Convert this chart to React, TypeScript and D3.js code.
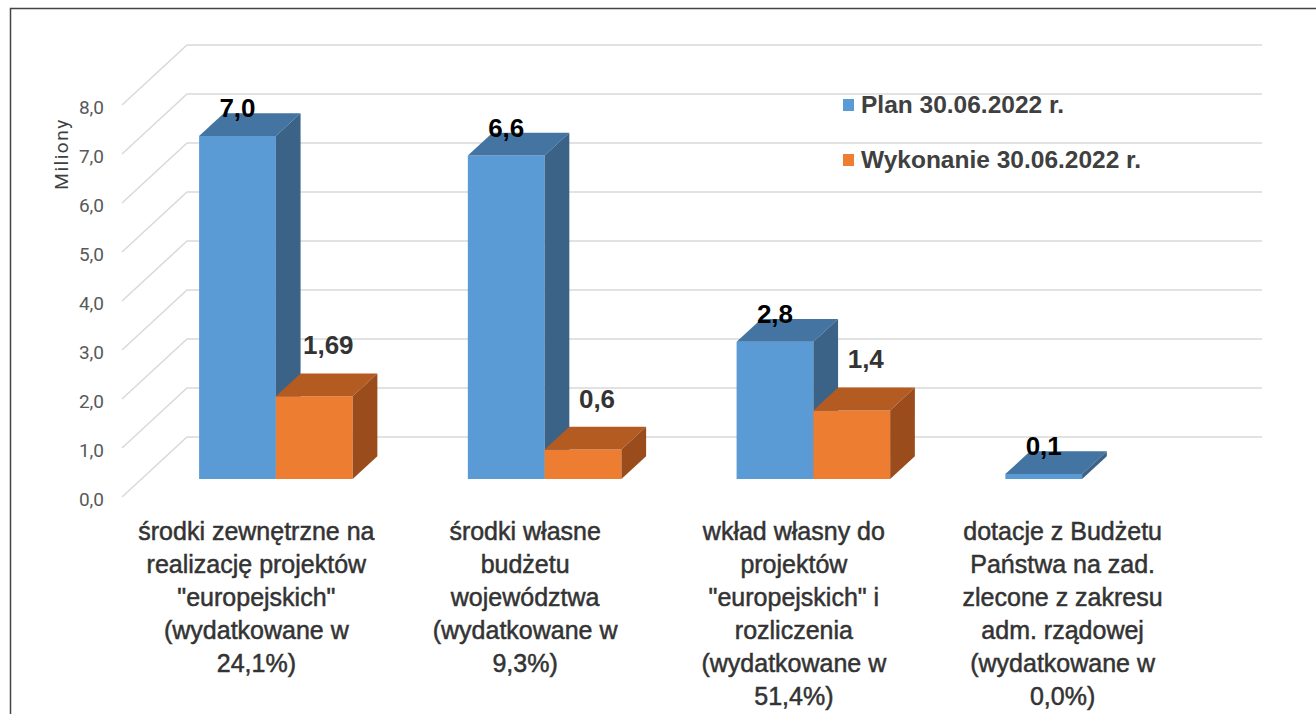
import { useEffect, useRef } from "react";
import * as d3 from "d3";

const categories = ["cat1", "cat2", "cat3", "cat4"];
const categoryLines: string[][] = [
  ["środki zewnętrzne na", "realizację projektów", "\"europejskich\"", "(wydatkowane w", "24,1%)"],
  ["środki własne", "budżetu", "województwa", "(wydatkowane w", "9,3%)"],
  ["wkład własny do", "projektów", "\"europejskich\" i", "rozliczenia", "(wydatkowane w", "51,4%)"],
  ["dotacje z Budżetu", "Państwa na zad.", "zlecone z zakresu", "adm. rządowej", "(wydatkowane w", "0,0%)"],
];
const seriesNames = ["Plan 30.06.2022 r.", "Wykonanie 30.06.2022 r."];
const planValues = [7.0, 6.6, 2.8, 0.1];
const executionValues = [1.69, 0.6, 1.4, 0];
const yTicks = [0, 1, 2, 3, 4, 5, 6, 7, 8];

const FACE = [
  { front: "#5b9bd5", top: "#4474a2", side: "#3a6387" },
  { front: "#ed7d31", top: "#b45b21", side: "#9a4c1c" },
];

const W = 1316;
const H = 714;
// oblique depth: full depth (z = 1) moves this much
const DEPTH_X = 65;
const DEPTH_Y = -60;
const BAR_Z0 = 0.3;
const BAR_Z1 = 0.68;

function fmt(v: number) {
  const digits = Math.round(v * 100) % 10 !== 0 ? 2 : 1;
  return v.toFixed(digits).replace(".", ",");
}

export default function App() {
  const svgRef = useRef<SVGSVGElement | null>(null);

  useEffect(() => {
    const svgEl = svgRef.current;
    if (!svgEl) return;
    const svg = d3.select(svgEl);
    svg.selectAll("*").remove();

    const x = d3.scaleBand().domain(categories).range([122, 1197]).padding(0);
    const xs = d3
      .scaleBand()
      .domain(seriesNames)
      .range([0, x.bandwidth()])
      .paddingInner(0)
      .paddingOuter(0.75);
    const y = d3.scaleLinear().domain([0, 8]).range([497, 105]);

    const px = (xv: number, z: number) => xv + DEPTH_X * z;
    const py = (v: number, z: number) => y(v) + DEPTH_Y * z;

    // frame
    svg
      .append("path")
      .attr("d", `M10.5,${H} L10.5,8.5 L${W + 5},8.5`)
      .attr("fill", "none")
      .attr("stroke", "#444")
      .attr("stroke-width", 1.5);

    const grid = svg.append("g").attr("stroke", "#d9d9d9").attr("stroke-width", 1.5).attr("fill", "none");
    const [x0, x1] = x.range();
    yTicks.forEach((t) => {
      grid
        .append("path")
        .attr("d", `M${px(x0, 0)},${py(t, 0)} L${px(x0, 1)},${py(t, 1)} L${px(x1, 1)},${py(t, 1)}`);
    });

    // tick labels
    svg
      .append("g")
      .selectAll("text")
      .data(yTicks)
      .join("text")
      .attr("x", 104)
      .attr("y", (t) => y(t) + 2)
      .attr("text-anchor", "end")
      .attr("dominant-baseline", "central")
      .attr("font-family", "Roboto, 'Open Sans', sans-serif")
      .attr("font-size", 19)
      .attr("fill", "#595959")
      .text((t) => t.toFixed(1).replace(".", ","));

    svg
      .append("text")
      .attr("transform", `translate(68, 154) rotate(-90)`)
      .attr("text-anchor", "middle")
      .attr("font-family", "Roboto, 'Open Sans', sans-serif")
      .attr("font-size", 19)
      .attr("letter-spacing", 1.5)
      .attr("fill", "#404040")
      .text("Miliony");

    const allValues = [planValues, executionValues];

    // orange labels sit behind the bars
    const labelFont = "'Liberation Sans', Arial, sans-serif";
    categories.forEach((c, i) => {
      const v = executionValues[i];
      if (!v) return;
      const bx = (x(c) ?? 0) + (xs(seriesNames[1]) ?? 0);
      svg
        .append("text")
        .attr("x", px(bx + xs.bandwidth() / 2, BAR_Z0) + 14)
        .attr("y", py(v, BAR_Z0) - 42)
        .attr("text-anchor", "middle")
        .attr("font-family", labelFont)
        .attr("font-weight", 700)
        .attr("font-size", 26)
        .attr("fill", "#333")
        .text(fmt(v));
    });

    const bars = svg.append("g");
    categories.forEach((c, i) => {
      seriesNames.forEach((s, si) => {
        const v = allValues[si][i];
        if (!v) return;
        const left = (x(c) ?? 0) + (xs(s) ?? 0);
        const right = left + xs.bandwidth();
        const col = FACE[si];
        const pt = (xv: number, val: number, z: number) => `${px(xv, z)},${py(val, z)}`;
        bars
          .append("polygon")
          .attr("points", [pt(left, v, BAR_Z0), pt(right, v, BAR_Z0), pt(right, 0, BAR_Z0), pt(left, 0, BAR_Z0)].join(" "))
          .attr("fill", col.front);
        bars
          .append("polygon")
          .attr("points", [pt(left, v, BAR_Z0), pt(right, v, BAR_Z0), pt(right, v, BAR_Z1), pt(left, v, BAR_Z1)].join(" "))
          .attr("fill", col.top);
        bars
          .append("polygon")
          .attr("points", [pt(right, v, BAR_Z0), pt(right, v, BAR_Z1), pt(right, 0, BAR_Z1), pt(right, 0, BAR_Z0)].join(" "))
          .attr("fill", col.side);
      });
    });

    // blue labels on top
    categories.forEach((c, i) => {
      const v = planValues[i];
      const bx = (x(c) ?? 0) + (xs(seriesNames[0]) ?? 0);
      svg
        .append("text")
        .attr("x", px(bx + xs.bandwidth() / 2, BAR_Z0))
        .attr("y", py(v, BAR_Z0) - 19)
        .attr("text-anchor", "middle")
        .attr("font-family", labelFont)
        .attr("font-weight", 700)
        .attr("font-size", 26)
        .attr("fill", "#000")
        .text(fmt(v));
    });

    // category labels
    categories.forEach((c, i) => {
      const cx = (x(c) ?? 0) + x.bandwidth() / 2;
      const t = svg
        .append("text")
        .attr("x", cx)
        .attr("y", 540)
        .attr("text-anchor", "middle")
        .attr("font-family", labelFont)
        .attr("font-size", 25)
        .attr("fill", "#333")
        .attr("stroke", "#333")
        .attr("stroke-width", 0.5);
      categoryLines[i].forEach((line, li) => {
        t.append("tspan")
          .attr("x", cx)
          .attr("dy", li === 0 ? 0 : 33)
          .text(line);
      });
    });

    // legend
    const legend = svg.append("g").attr("transform", "translate(843, 0)");
    seriesNames.forEach((s, si) => {
      const g = legend.append("g").attr("transform", `translate(0, ${99 + si * 55})`);
      g.append("rect").attr("width", 11).attr("height", 12).attr("fill", FACE[si].front);
      g.append("text")
        .attr("x", 18)
        .attr("y", 14)
        .attr("font-family", labelFont)
        .attr("font-weight", 700)
        .attr("font-size", 24.5)
        .attr("fill", "#404040")
        .text(s);
    });
  }, []);

  return (
    <svg
      ref={svgRef}
      width={W}
      height={H}
      style={{ position: "absolute", left: 0, top: 0, background: "#fff" }}
    />
  );
}
